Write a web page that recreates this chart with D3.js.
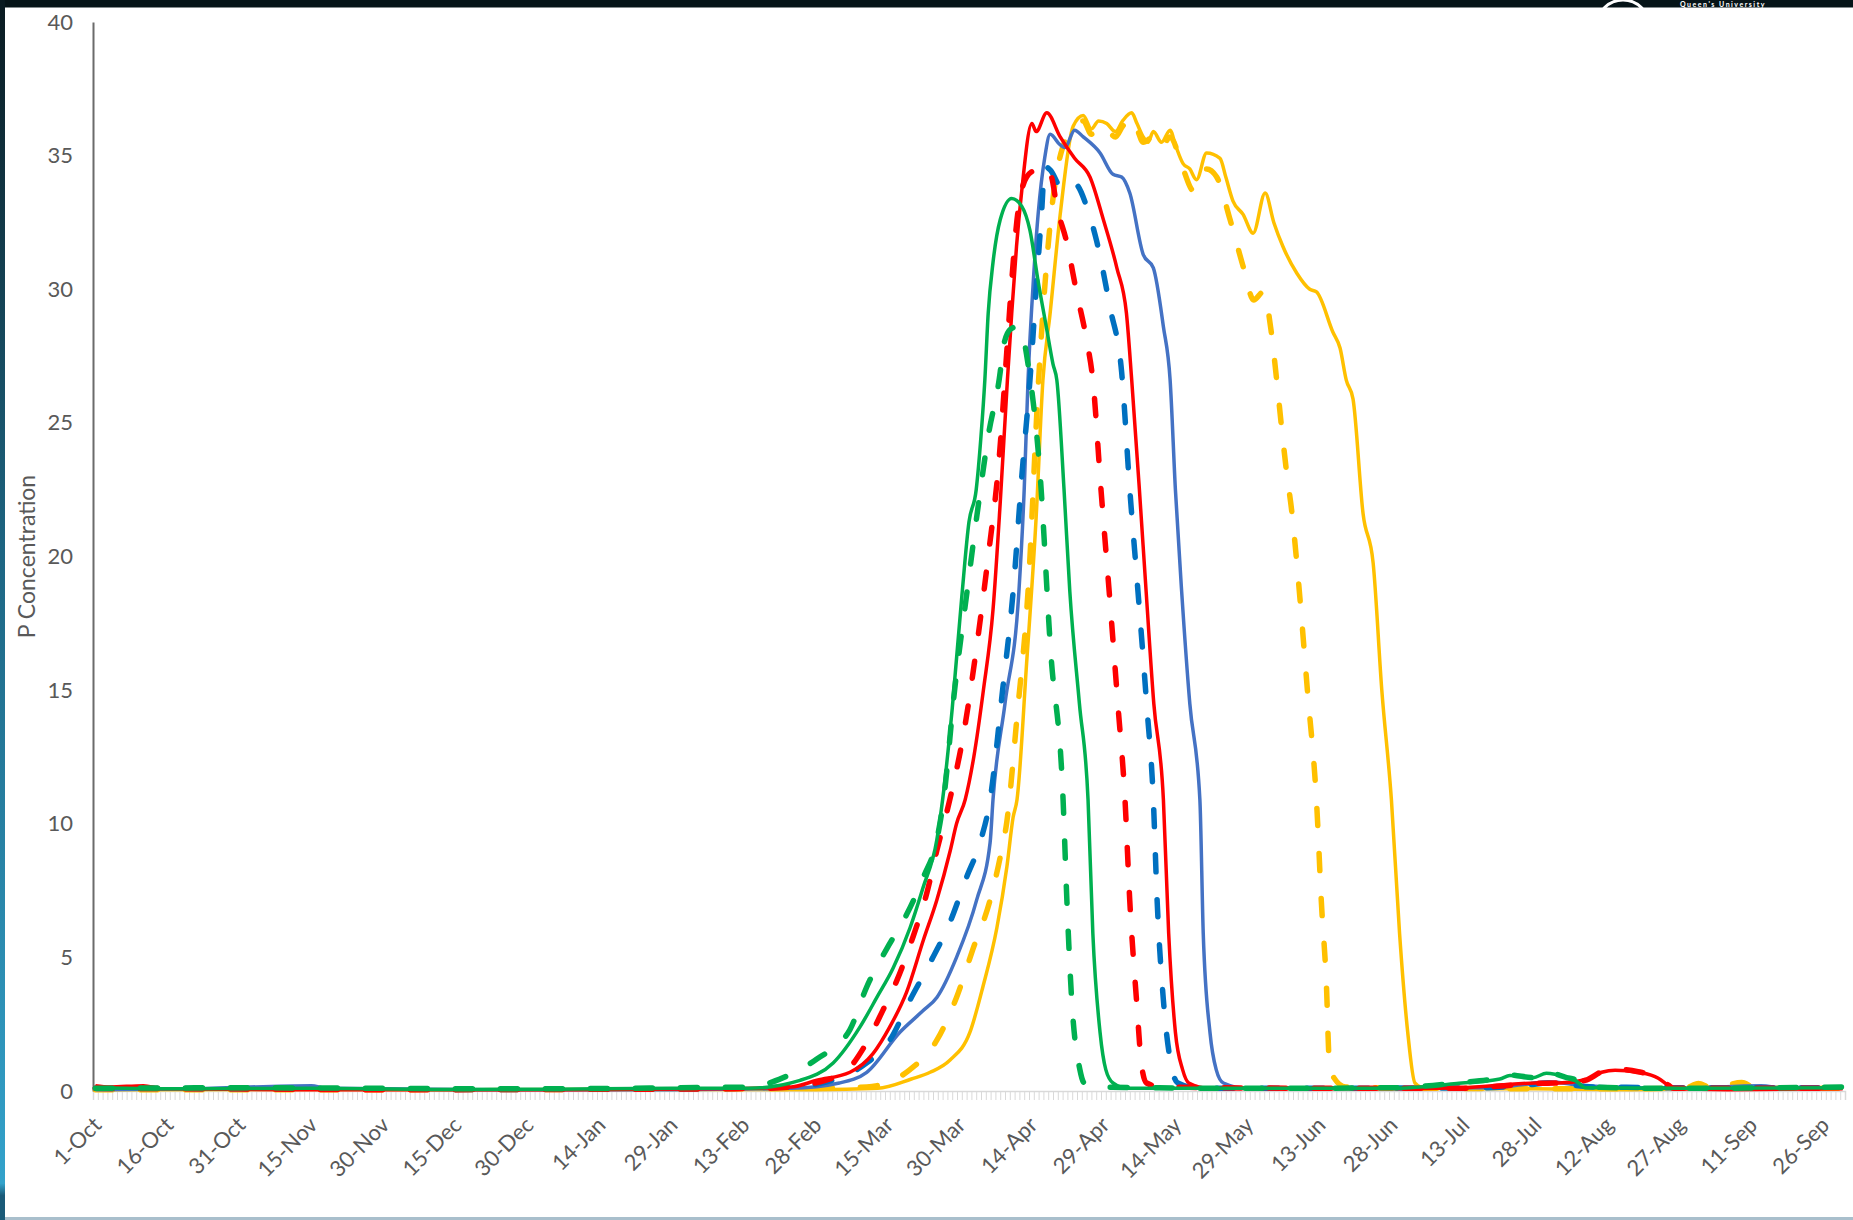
<!DOCTYPE html>
<html>
<head>
<meta charset="utf-8">
<script src="https://cdn.jsdelivr.net/npm/d3@7"></script>
<style>
    body { margin: 0; background: #ffffff; }
    svg { display: block; }
    text { font-family: Lato, "Open Sans", sans-serif; }
</style>
</head>
<body>
<div id="chart"></div>
<script>
// tick labels, one every 15 days starting 1-Oct
const dateLabels = ["1-Oct", "16-Oct", "31-Oct", "15-Nov", "30-Nov", "15-Dec", "30-Dec", "14-Jan", "29-Jan",
    "13-Feb", "28-Feb", "15-Mar", "30-Mar", "14-Apr", "29-Apr", "14-May", "29-May", "13-Jun", "28-Jun",
    "13-Jul", "28-Jul", "12-Aug", "27-Aug", "11-Sep", "26-Sep"];
const yTicks = [0, 5, 10, 15, 20, 25, 30, 35, 40];

// [day since 1-Oct, P concentration]
const yellowSolid = [[0,0.05],[40,0.06],[80,0.05],[120,0.06],[150,0.05],[163,0.1],[170,0.45],[173.9,0.7],[178,1.15],[182.2,2.2],
    [184.9,3.9],[187.8,6.1],[189.9,8.4],[191.2,10.25],[192,10.9],[194,16],[196,21.5],[197.4,26.6],[198.9,29.1],[201,32.8],
    [203.7,36.1],[205.8,36.5],[207.5,36.0],[209,36.3],[210.7,36.2],[212.5,35.9],[214,36.3],[215.9,36.6],[217,36.2],[218.3,35.7],
    [219.3,35.5],[220.4,35.9],[222.1,35.5],[223.9,35.95],[225,35.4],[226.6,34.7],[228,34.5],[229.4,34.1],[231.5,35.1],[234.3,34.9],
    [235.5,34.2],[237,33.3],[239.1,32.8],[241.2,32.1],[243.7,33.6],[245.5,32.5],[247.4,31.6],[250.3,30.6],[253,30.0],[254.4,29.9],
    [257.8,28.4],[259.3,27.8],[260.6,26.6],[262,25.9],[264.1,21.6],[266.2,19.75],[268,15],[270,10.9],[271.7,5.9],[273.4,2.2],
    [274.9,0.3],[277,0.1],[300,0.08],[320,0.05],[331,0.08],[334,0.3],[337,0.1],[340,0.08],[343,0.35],[346,0.1],[364,0.1]];
const yellowDashed = [[0,0.05],[50,0.05],[100,0.06],[150,0.1],[160.7,0.15],[169.7,0.8],[175.3,1.9],[179.4,3.5],[182.8,5.3],
    [186.4,7.15],[188.5,8.75],[189.9,10.1],[192,14],[194.3,18.7],[196.5,26.6],[199,32.6],[201.5,35.3],[203.7,35.9],[205.8,36.3],
    [207.5,35.8],[209,36.1],[210.7,36.0],[212.5,35.7],[214,36.1],[215.9,36.4],[217,36.0],[218.3,35.5],[220.4,35.7],[222.1,35.3],
    [223.9,35.7],[226.6,34.5],[228.7,33.7],[229.5,34.0],[231.5,34.5],[233.6,34.2],[236.4,32.6],[239.2,30.8],[241.3,29.6],[243.3,29.9],
    [244.9,28.5],[246.1,26.6],[247.2,24.7],[248.2,23.1],[249.3,21.6],[250.3,19.75],[252.5,15],[254.5,10.5],[255.4,7.1],[256.5,3.8],
    [257,1.3],[258,0.5],[260.5,0.15],[280,0.1],[310,0.08],[331,0.1],[334,0.28],[337,0.1],[343,0.32],[346,0.1],[364,0.1]];
const blueSolid = [[0,0.05],[20,0.08],[45,0.2],[48,0.1],[80,0.05],[120,0.05],[145,0.1],[155,0.3],[160.7,0.7],[167.6,2.2],[172.4,3.0],
    [175.3,3.5],[179.4,5.0],[183.6,7.15],[186.4,9.3],[187,10.9],[189.5,14.5],[192.4,18.7],[193.5,22.5],[194.3,26.6],[195.4,30.3],
    [196.4,32.8],[197.8,34.95],[198.9,35.8],[201,35.4],[202,35.3],[204,35.95],[205.8,35.7],[209.3,35.1],[212,34.3],[213.8,34.2],
    [215.5,33.6],[218.3,31.3],[220.4,30.8],[222.5,28.6],[223.9,26.6],[225,22.5],[226.3,18.7],[228,14.5],[230.1,10.9],[230.8,5.9],
    [232.2,2.2],[233.5,0.8],[235,0.3],[240,0.1],[290,0.12],[298,0.25],[303,0.35],[310,0.2],[330,0.1],[347,0.2],[352,0.1],[364,0.1]];
const blueDashed = [[0,0.1],[40,0.08],[80,0.06],[120,0.08],[145,0.15],[155,0.5],[160.7,1.05],[165.5,1.9],[169.7,3.4],[173.9,4.8],
    [178,6.3],[181.5,8.0],[184.3,9.3],[186.4,10.9],[189,15],[191.2,18.7],[193,23],[194.7,26.6],[196.1,30.3],[197.1,32.8],[197.8,34.6],
    [199,34.45],[201.3,33.8],[202.3,33.8],[203.4,34.0],[204.5,33.9],[206.5,33.1],[208.6,31.8],[211.4,29.3],[213.8,26.9],[215.5,22.5],
    [217.2,18.7],[219,14.5],[220.4,10.9],[221.2,7.1],[222.5,3.4],[224.2,0.9],[225.5,0.3],[230,0.1],[290,0.12],[298,0.22],[303,0.3],
    [312,0.15],[340,0.12],[364,0.12]];
const redSolid = [[0,0.2],[3,0.15],[10,0.2],[14,0.08],[40,0.05],[70,0.05],[100,0.05],[130,0.08],[145,0.15],[150.3,0.4],[157.2,0.7],
    [162,1.4],[165.5,2.4],[169,3.7],[172.5,5.65],[175.3,7.15],[178.1,9.0],[179.4,10.0],[181.2,10.9],[183,12.5],[185,15],[187,18],
    [188.5,22],[190,26.6],[190.9,29.1],[191.9,31.6],[193,33.7],[195.1,36.2],[196,35.9],[198.2,36.6],[201,35.7],[204,34.9],[207.2,34.2],
    [210,32.6],[212.8,30.8],[214.8,29.1],[215.9,26.6],[217.5,22.5],[218.9,18.7],[220.5,14.5],[222.5,10.9],[223.6,5.9],[225,2.2],
    [226.5,0.8],[227.8,0.3],[232,0.1],[270,0.08],[285,0.12],[295,0.25],[300,0.3],[305,0.3],[310.4,0.42],[313.8,0.7],[316.6,0.78],
    [321.4,0.7],[325.6,0.48],[327.7,0.2],[328.8,0.08],[340,0.05],[364,0.08]];
const redDashed = [[0,0.1],[30,0.08],[60,0.05],[100,0.06],[140,0.1],[150,0.3],[157.2,0.9],[160,1.6],[164,3.0],[167,4.15],[170.4,5.8],
    [173.2,7.4],[175.3,9.0],[178,10.9],[181,13.5],[183.5,16.5],[186,20],[188.2,23.5],[190,28],[190.9,30.3],[192,32.6],[194,34.2],
    [196.1,34.5],[197.2,34.6],[198.2,34.5],[199.2,34.2],[200.3,33.1],[202.3,31.8],[204.4,29.9],[206.5,28.1],[207.8,26.6],[209.5,22.5],
    [211.2,18.7],[213,14.5],[214.5,10.9],[215.5,7.1],[216.9,3.4],[218,0.9],[219,0.3],[222,0.15],[260,0.1],[285,0.1],[295,0.22],
    [299.5,0.28],[305,0.3],[310.4,0.4],[313.8,0.72],[316.6,0.82],[321.4,0.72],[325.6,0.5],[327.7,0.22],[328.8,0.1],[364,0.1]];
const greenSolid = [[0,0.12],[20,0.08],[45,0.1],[70,0.06],[95,0.07],[120,0.1],[136,0.1],[146.8,0.4],[153.7,1.05],[159.3,2.4],
    [162.8,3.5],[166.2,4.6],[169.7,6.1],[172.4,7.6],[175.3,9.4],[176.5,10.9],[178.5,14.3],[180.5,18.5],[182,21.3],[183.5,22.5],
    [184.5,24.5],[185.3,26.6],[186,29.1],[187,31.0],[188.5,32.6],[190.9,33.4],[193,33.1],[194.7,32.2],[196.4,30.3],[198.2,28.5],
    [199.5,27.2],[200.3,26.6],[201.8,22.5],[203,18.7],[205,14.5],[206.8,10.9],[207.8,5.9],[209.3,2.2],[210.5,0.8],[212,0.3],
    [215,0.1],[240,0.1],[270,0.1],[283.6,0.28],[292.6,0.45],[294.7,0.58],[299.5,0.5],[302.3,0.66],[306.5,0.5],[308.6,0.36],
    [310.4,0.12],[330,0.1],[364,0.12]];
const greenDashed = [[0,0.1],[30,0.12],[60,0.1],[90,0.08],[120,0.12],[136.4,0.15],[143.3,0.5],[150.3,1.2],[157.2,2.3],[160.7,3.9],
    [164.8,5.3],[169,6.6],[172.5,8.0],[175.3,9.4],[176.7,10.9],[179,15],[181.6,18.7],[184,22],[186,24.5],[188.5,26.9],[189.1,27.8],
    [190.6,28.5],[192,28.6],[193.3,28.2],[194.3,27.2],[196.8,23.1],[199,16.5],[201.6,10.9],[202.4,7.1],[203.4,3.4],[205.1,0.8],
    [206,0.3],[209,0.15],[240,0.1],[270,0.12],[283.6,0.3],[292.6,0.5],[294.7,0.6],[299.5,0.5],[302.3,0.7],[306.5,0.5],[308.6,0.4],
    [310.4,0.15],[330,0.1],[364,0.15]];

class LineChart {
    constructor(_config) {
        this.config = {
            parentElement: _config.parentElement,
            containerWidth: _config.containerWidth || 1853,
            containerHeight: _config.containerHeight || 1220,
            plot: _config.plot,
            yLabel: _config.yLabel
        };
        this.initVis();
    }

    initVis() {
        let vis = this;
        const p = vis.config.plot;

        vis.svg = d3.select(vis.config.parentElement)
            .append("svg")
            .attr("width", vis.config.containerWidth)
            .attr("height", vis.config.containerHeight);

        // slide frame: dark band on top, teal band on the left
        const defs = vis.svg.append("defs");
        const grad = defs.append("linearGradient").attr("id", "leftBand")
            .attr("x1", 0).attr("y1", 0).attr("x2", 0).attr("y2", 1);
        grad.append("stop").attr("offset", "0%").attr("stop-color", "#0a1a20");
        grad.append("stop").attr("offset", "45%").attr("stop-color", "#1d6582");
        grad.append("stop").attr("offset", "97%").attr("stop-color", "#33a2cb");
        grad.append("stop").attr("offset", "98%").attr("stop-color", "#1a5a78");

        vis.svg.append("rect").attr("width", vis.config.containerWidth).attr("height", 8).attr("fill", "#061418");
        // university logo peeking out of the top band
        vis.svg.append("circle")
            .attr("cx", 1623).attr("cy", 26).attr("r", 26)
            .attr("fill", "none").attr("stroke", "#ffffff").attr("stroke-width", 3);
        vis.svg.append("text")
            .attr("x", 1680).attr("y", 7.3)
            .attr("fill", "#ffffff")
            .attr("font-size", 7)
            .attr("font-weight", "bold")
            .attr("letter-spacing", 1.5)
            .text("Queen's University");
        vis.svg.append("rect").attr("x", 0).attr("y", 7.5).attr("width", vis.config.containerWidth)
            .attr("height", vis.config.containerHeight - 7.5).attr("fill", "#ffffff");
        vis.svg.append("rect").attr("x", 0).attr("y", 0).attr("width", 5)
            .attr("height", vis.config.containerHeight).attr("fill", "url(#leftBand)");
        vis.svg.append("rect").attr("x", 5).attr("y", 1217).attr("width", vis.config.containerWidth)
            .attr("height", 3).attr("fill", "#a9bfcc");

        vis.x = d3.scaleLinear().domain([0, 365]).range([p.left, p.right]);
        vis.y = d3.scaleLinear().domain([0, 40]).range([p.bottom, p.top]);

        // day ticks under the category axis
        vis.svg.append("g")
            .attr("transform", "translate(0," + p.bottom + ")")
            .call(d3.axisBottom(vis.x).tickValues(d3.range(0, 366)).tickSize(9).tickFormat(""))
            .call(g => g.selectAll("line").attr("stroke", "#d9d9d9").attr("stroke-width", 1))
            .call(g => g.select(".domain").attr("stroke", "#d9d9d9").attr("stroke-width", 1.5));

        vis.svg.append("g")
            .selectAll("text")
            .data(dateLabels)
            .enter()
            .append("text")
            .attr("transform", (d, i) => "translate(" + (vis.x(i * 15 + 0.5) + 2) + "," + (p.bottom + 30) + ")rotate(-45)")
            .attr("text-anchor", "end")
            .attr("dy", "0.35em")
            .attr("font-size", 22)
            .attr("fill", "#595959")
            .text(d => d);

        // Y axis
        vis.svg.append("g")
            .attr("transform", "translate(" + p.left + ",0)")
            .call(d3.axisLeft(vis.y).tickValues(yTicks).tickSize(0).tickPadding(20))
            .call(g => g.select(".domain").attr("stroke", "#6b6b6b").attr("stroke-width", 2))
            .call(g => g.selectAll("text")
                .attr("font-family", "Lato, 'Open Sans', sans-serif")
                .attr("font-size", 22)
                .attr("fill", "#595959"));

        vis.svg.append("text")
            .attr("text-anchor", "middle")
            .attr("transform", "translate(27," + ((p.top + p.bottom) / 2) + ")rotate(-90)")
            .attr("dy", "0.35em")
            .attr("font-size", 23)
            .attr("fill", "#595959")
            .text(vis.config.yLabel);

        vis.line = d3.line()
            .x(d => vis.x(d[0] + 0.5))
            .y(d => vis.y(d[1]))
            .curve(d3.curveMonotoneX);
    }

    addSeries(values, color, dashed) {
        let vis = this;
        vis.svg.append("path")
            .datum(values)
            .attr("fill", "none")
            .attr("stroke", color)
            .attr("stroke-width", dashed ? 5.5 : 3.5)
            .attr("stroke-linejoin", "round")
            .attr("stroke-linecap", dashed ? "round" : "butt")
            .attr("stroke-dasharray", dashed ? "17,28" : null)
            .attr("d", vis.line);
    }
}

const chart = new LineChart({
    parentElement: "#chart",
    plot: {left: 93, right: 1845, top: 22, bottom: 1091},
    yLabel: "P Concentration"
});

const seriesList = [
    {values: yellowSolid, color: "#FFC000", dashed: false},
    {values: yellowDashed, color: "#FFC000", dashed: true},
    {values: blueSolid, color: "#4472C4", dashed: false},
    {values: blueDashed, color: "#0070C0", dashed: true},
    {values: redSolid, color: "#FF0000", dashed: false},
    {values: redDashed, color: "#FF0000", dashed: true},
    {values: greenSolid, color: "#00B050", dashed: false},
    {values: greenDashed, color: "#00B050", dashed: true}
];
seriesList.forEach(s => chart.addSeries(s.values, s.color, s.dashed));
</script>
</body>
</html>
